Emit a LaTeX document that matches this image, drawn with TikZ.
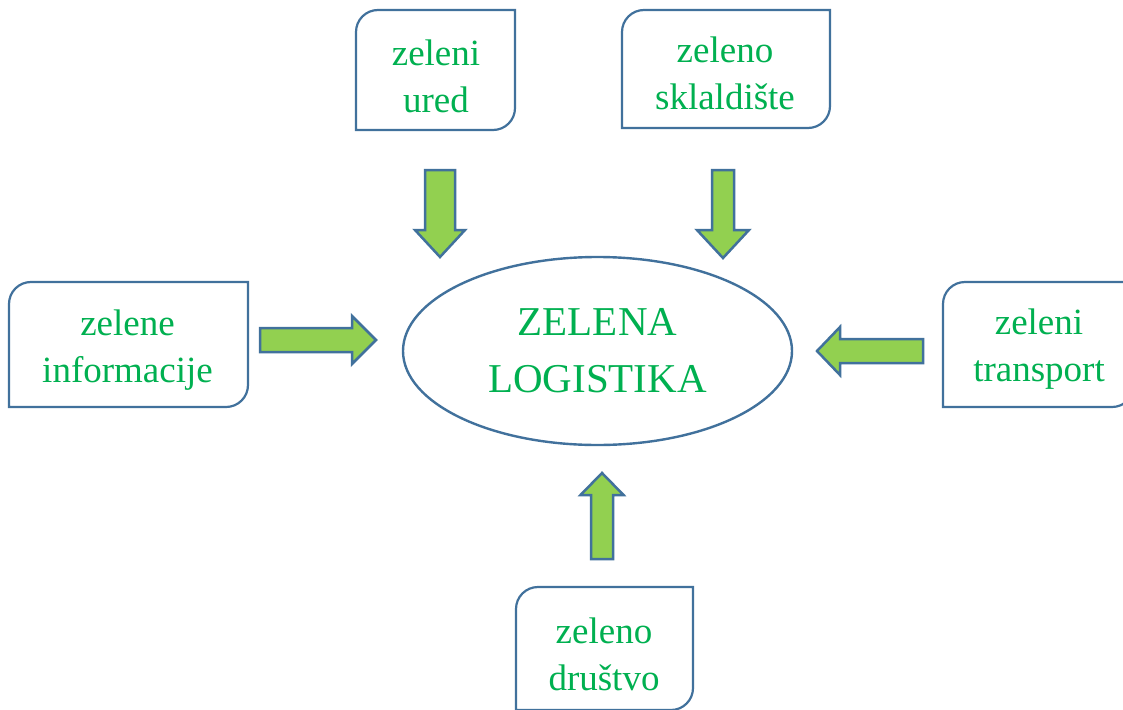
\documentclass[tikz,border=0pt]{standalone}
\usepackage{fontspec}
\setmainfont{Liberation Serif}
\usetikzlibrary{shapes.geometric}
\definecolor{txtgreen}{HTML}{00B050}
\definecolor{arrowgreen}{HTML}{92D050}
\definecolor{edgeblue}{HTML}{41719C}
\tikzset{
  boxframe/.style={rectangle, inner sep=0pt, outer sep=0pt},
  boxline/.style={draw=edgeblue, line width=2.2pt, fill=white},
  boxtext/.style={text=txtgreen, align=center, inner sep=0pt, font=\fontsize{37}{47}\selectfont},
  hub/.style={ellipse, draw=edgeblue, line width=2.4pt, fill=white, minimum width=389pt, minimum height=188pt, inner sep=0pt, text=txtgreen, align=center, font=\fontsize{41}{57}\selectfont},
  garrow/.style={draw=edgeblue, fill=arrowgreen, line width=2.5pt}
}
% border with round top-left and bottom-right corners
\newcommand\boxborder[1]{%
  \draw[boxline] (#1.south west) -- ([yshift=-22pt]#1.north west)
    to[out=90,in=180] ([xshift=22pt]#1.north west) -- (#1.north east)
    -- ([yshift=22pt]#1.south east) to[out=-90,in=0] ([xshift=-22pt]#1.south east) -- cycle;}
% block arrow: centre x, centre y, angle, half length, shaft half width, head half width, head length
\newcommand\blockarrow[7]{%
  \begin{scope}[shift={(#1,#2)}, rotate=#3]
    \draw[garrow] ({-#4},{-#5}) -- ({#4-#7},{-#5}) -- ({#4-#7},{-#6}) -- ({#4},0)
      -- ({#4-#7},{#6}) -- ({#4-#7},{#5}) -- ({-#4},{#5}) -- cycle;
  \end{scope}}
\begin{document}
\begin{tikzpicture}[x=1pt,y=-1pt]
\useasboundingbox (0,0) rectangle (1123,709);
\clip (0,0) rectangle (1123,709);
\fill[white] (0,0) rectangle (1123,709);

% boxes
\node[boxframe, minimum width=159pt, minimum height=120pt] (ured) at (435.5,70) {};
\boxborder{ured}
\node[boxtext] (uredT) at (436,76) {zeleni\\ured};

\node[boxframe, minimum width=208pt, minimum height=118pt] (sklad) at (726,69) {};
\boxborder{sklad}
\node[boxtext] (skladT) at (725,73.5) {zeleno\\sklaldište};

\node[boxframe, minimum width=239pt, minimum height=125pt] (info) at (128.5,344.5) {};
\boxborder{info}
\node[boxtext] (infoT) at (127.5,350.5) {zelene\\informacije};

\node[boxframe, minimum width=191pt, minimum height=125pt] (trans) at (1038.5,344.5) {};
\boxborder{trans}
\node[boxtext] (transT) at (1039,349) {zeleni\\transport};

\node[boxframe, minimum width=177pt, minimum height=123pt] (drus) at (604.5,648.5) {};
\boxborder{drus}
\node[boxtext] (drusT) at (604,654) {zeleno\\društvo};

% central ellipse
\node[hub] (hub) at (597.5,351) {ZELENA\\LOGISTIKA};

% block arrows
\blockarrow{440}{213.5}{-90}{43.5}{15}{25}{27}
\blockarrow{723}{214}{-90}{44}{11}{26}{28}
\blockarrow{318}{340}{0}{58}{12}{24}{24}
\blockarrow{870}{351}{180}{53}{12}{24}{23}
\blockarrow{602}{516}{90}{43}{11}{21.5}{22}
\end{tikzpicture}
\end{document}
